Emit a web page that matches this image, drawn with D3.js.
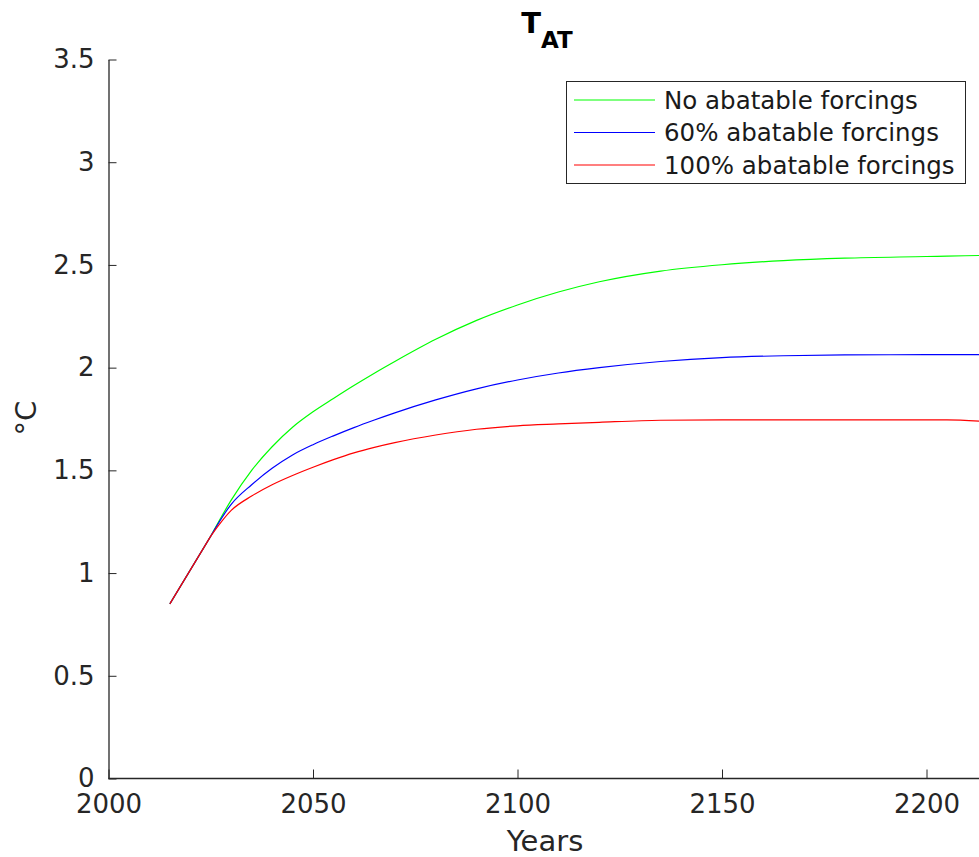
<!DOCTYPE html>
<html>
<head>
<meta charset="utf-8">
<script src="https://cdn.jsdelivr.net/npm/d3@7"></script>
<style>
  body { margin: 0; background: #fff; }
  svg { display: block; font-family: "DejaVu Sans", sans-serif; }
</style>
</head>
<body>
<svg id="chart" width="979" height="857"></svg>
<script>
const years = [2015, 2025, 2030, 2035, 2040, 2045, 2050, 2055, 2060, 2065, 2070, 2080, 2090,
  2100, 2110, 2120, 2135, 2150, 2165, 2180, 2200, 2205, 2213];
const noAbatable = [0.85, 1.18, 1.355, 1.50, 1.615, 1.71, 1.785, 1.85, 1.913, 1.973, 2.03, 2.138, 2.23,
  2.305, 2.368, 2.418, 2.47, 2.501, 2.521, 2.533, 2.541, 2.543, 2.546];
const abatable60 = [0.85, 1.18, 1.335, 1.43, 1.51, 1.575, 1.625, 1.668, 1.708, 1.745, 1.78, 1.843, 1.897,
  1.94, 1.974, 2.0, 2.03, 2.049, 2.058, 2.062, 2.063, 2.063, 2.063];
const abatable100 = [0.85, 1.18, 1.305, 1.375, 1.43, 1.475, 1.515, 1.552, 1.585, 1.612, 1.635, 1.672, 1.70,
  1.717, 1.726, 1.734, 1.744, 1.746, 1.746, 1.746, 1.746, 1.746, 1.739];
const seriesNames = ["No abatable forcings", "60% abatable forcings", "100% abatable forcings"];
const seriesColors = ["#00ff00", "#0000ff", "#ff0000"];
const xTicks = [2000, 2050, 2100, 2150, 2200];
const yTicks = [0, 0.5, 1, 1.5, 2, 2.5, 3, 3.5];

const svg = d3.select("#chart");
const axisColor = "#262626";

const x = d3.scaleLinear().domain([2000, 2200]).range([108.5, 926.5]);
const y = d3.scaleLinear().domain([0, 3.5]).range([778.5, 59.5]);

// x axis (ticks point inward)
const xAxis = svg.append("g")
  .attr("transform", "translate(0,778.5)")
  .call(d3.axisBottom(x).tickValues(xTicks).tickSizeInner(-9).tickSizeOuter(0).tickPadding(16)
    .tickFormat(d3.format("d")));
xAxis.select(".domain").attr("d", "M108.5,0H979");
xAxis.selectAll("line").attr("stroke", axisColor);
xAxis.selectAll("path").attr("stroke", axisColor).attr("stroke-width", 1.3);
xAxis.selectAll("text").attr("fill", axisColor).attr("font-size", 26)
  .attr("font-family", "DejaVu Sans").attr("dy", "0.71em");

// y axis
const yAxis = svg.append("g")
  .attr("transform", "translate(108.5,0)")
  .call(d3.axisLeft(y).tickValues(yTicks).tickSizeInner(-8).tickSizeOuter(0).tickPadding(14)
    .tickFormat(d => d));
yAxis.selectAll("line").attr("stroke", axisColor);
yAxis.selectAll("path").attr("stroke", axisColor).attr("stroke-width", 1.3);
yAxis.selectAll("text").attr("fill", axisColor).attr("font-size", 26)
  .attr("font-family", "DejaVu Sans");

// series: straight historical segment up to 2025, smooth afterwards
const straight = d3.line().x(d => x(d[0])).y(d => y(d[1]));
const smooth = d3.line().x(d => x(d[0])).y(d => y(d[1])).curve(d3.curveMonotoneX);

[noAbatable, abatable60, abatable100].forEach((vals, i) => {
  const pts = years.map((yr, j) => [yr, vals[j]]);
  const head = straight(pts.slice(0, 2));
  const tail = smooth(pts.slice(1));
  svg.append("path")
    .attr("fill", "none")
    .attr("stroke", seriesColors[i])
    .attr("stroke-width", 1.2)
    .attr("d", head + "L" + tail.slice(1));
});

// title
const title = svg.append("text")
  .attr("x", 547).attr("y", 33)
  .attr("text-anchor", "middle")
  .attr("font-weight", "bold")
  .attr("fill", "#000");
title.append("tspan").attr("font-size", 29).text("T");
title.append("tspan").attr("font-size", 23).attr("dy", 15).text("AT");

// axis labels
svg.append("text")
  .attr("x", 545).attr("y", 851)
  .attr("text-anchor", "middle")
  .attr("font-size", 29)
  .attr("fill", axisColor)
  .text("Years");

svg.append("text")
  .attr("transform", "translate(36,418) rotate(-90)")
  .attr("text-anchor", "middle")
  .attr("font-size", 29)
  .attr("fill", axisColor)
  .text("°C");

// legend
const legend = svg.append("g");
legend.append("rect")
  .attr("x", 566.5).attr("y", 81.5)
  .attr("width", 399).attr("height", 102)
  .attr("fill", "#fff")
  .attr("stroke", axisColor)
  .attr("stroke-width", 1);

seriesNames.forEach((name, i) => {
  const ly = 100 + i * 32.5;
  legend.append("line")
    .attr("x1", 574).attr("x2", 655)
    .attr("y1", ly).attr("y2", ly)
    .attr("stroke", seriesColors[i])
    .attr("stroke-width", 1.2);
  legend.append("text")
    .attr("x", 664).attr("y", ly)
    .attr("dy", "0.36em")
    .attr("font-size", 24.5)
    .attr("fill", "#1a1a1a")
    .text(name);
});
</script>
</body>
</html>
